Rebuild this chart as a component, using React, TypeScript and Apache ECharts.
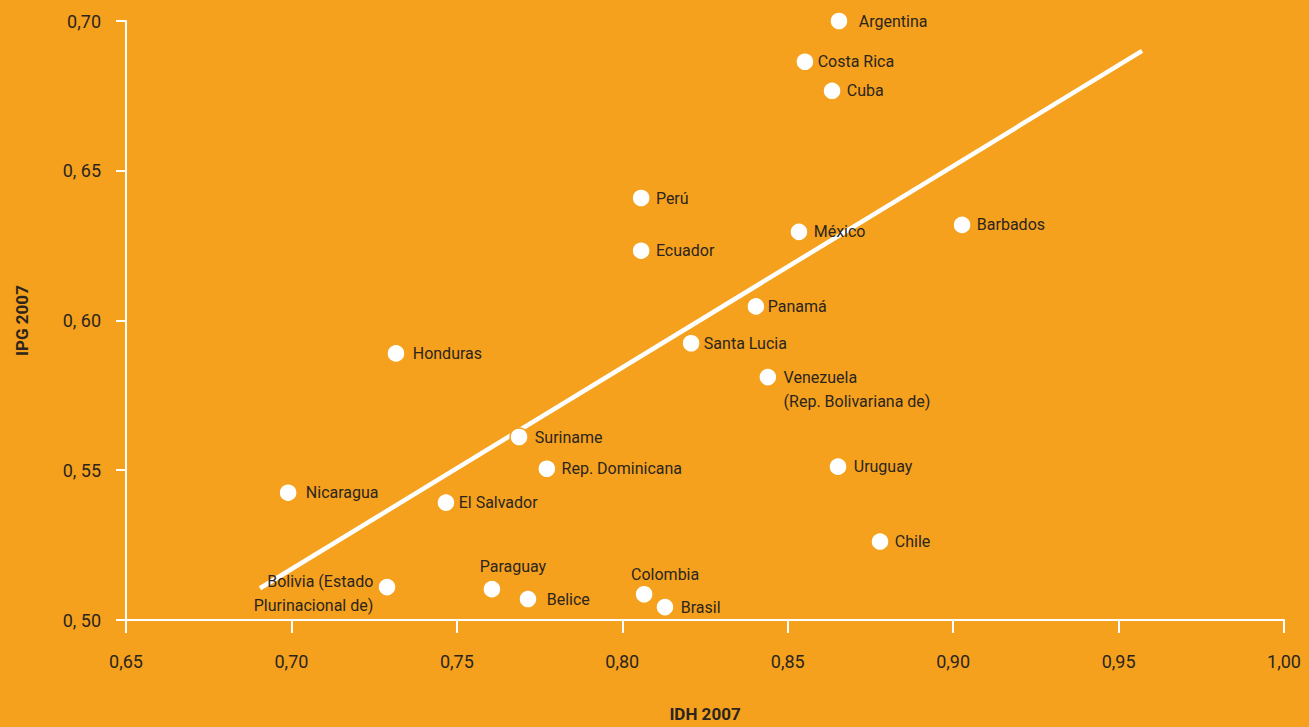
import React, { useEffect, useRef } from "react";
import * as echarts from "echarts";

const countries = [
  "Argentina", "Costa Rica", "Cuba", "Perú", "Ecuador", "México", "Barbados",
  "Panamá", "Santa Lucia", "Venezuela (Rep. Bolivariana de)", "Honduras", "Suriname",
  "Rep. Dominicana", "Uruguay", "Nicaragua", "El Salvador", "Chile",
  "Bolivia (Estado Plurinacional de)", "Paraguay", "Belice", "Colombia", "Brasil",
];
const displayNames = [
  "Argentina", "Costa Rica", "Cuba", "Perú", "Ecuador", "México", "Barbados",
  "Panamá", "Santa Lucia", "Venezuela\n(Rep. Bolivariana de)", "Honduras", "Suriname",
  "Rep. Dominicana", "Uruguay", "Nicaragua", "El Salvador", "Chile",
  "Bolivia (Estado\nPlurinacional de)", "Paraguay", "Belice", "Colombia", "Brasil",
];
const idh2007 = [
  0.8655, 0.8552, 0.8634, 0.8057, 0.8057, 0.8534, 0.9027,
  0.8404, 0.8208, 0.8440, 0.7316, 0.7688,
  0.7772, 0.8652, 0.6990, 0.7467, 0.8779,
  0.7289, 0.7606, 0.7715, 0.8066, 0.8129,
];
const ipg2007 = [
  0.7000, 0.6864, 0.6767, 0.6409, 0.6233, 0.6296, 0.6319,
  0.6047, 0.5924, 0.5811, 0.5890, 0.5611,
  0.5505, 0.5512, 0.5425, 0.5392, 0.5262,
  0.5110, 0.5103, 0.5070, 0.5086, 0.5043,
];
const trendX = [0.6905, 0.9571];
const trendY = [0.5106, 0.6900];
const xTickLabels = ["0,65", "0,70", "0,75", "0,80", "0,85", "0,90", "0,95", "1,00"];
const yTickLabels = ["0, 50", "0, 55", "0, 60", "0, 65", "0,70"];

// label placement (style only)
const labelPlacement: Record<string, any> = {
  "Argentina": { distance: 10 },
  "Costa Rica": { distance: 3 },
  "Panamá": { distance: 2 },
  "Santa Lucia": { distance: 3 },
  "El Salvador": { distance: 3 },
  "Honduras": { distance: 7 },
  "Nicaragua": { distance: 8 },
  "Belice": { distance: 9 },
  "Suriname": { distance: 6 },
  "Uruguay": { distance: 6 },
  "Brasil": { distance: 6 },
  "Venezuela (Rep. Bolivariana de)": { distance: 6, offset: [0, 12], lineHeight: 24 },
  "Bolivia (Estado Plurinacional de)": { position: "left", distance: 4, align: "right", offset: [0, 6], lineHeight: 24 },
  "Paraguay": { position: "top", distance: 5, offset: [21, 0] },
  "Colombia": { position: "top", distance: 2, offset: [21, 0] },
};

const BG = "#F5A11D";
const TEXT = "#2b251e";
const FONT = "Roboto, 'Open Sans', sans-serif";

export default function App() {
  const ref = useRef<HTMLDivElement>(null);
  useEffect(() => {
    document.body.style.margin = "0";
    document.body.style.overflow = "hidden";
    if (!ref.current) return;
    const chart = echarts.init(ref.current, undefined, { renderer: "svg" });
    const scatterData = countries.map((name, i) => ({
      name,
      value: [idh2007[i], ipg2007[i]],
      label: { formatter: displayNames[i], ...(labelPlacement[name] || {}) },
    }));
    chart.setOption({
      animation: false,
      backgroundColor: BG,
      grid: { left: 126, right: 25, top: 21, bottom: 100 },
      xAxis: {
        type: "value",
        min: 0.65,
        max: 1.0,
        interval: 0.05,
        name: "IDH 2007",
        nameLocation: "middle",
        nameGap: 85,
        nameTextStyle: { color: TEXT, fontFamily: FONT, fontWeight: "bold", fontSize: 17 },
        axisLine: { show: true, lineStyle: { color: "#fff", width: 2 } },
        axisTick: { show: true, length: 13, lineStyle: { color: "#fff", width: 2 } },
        axisLabel: {
          color: TEXT,
          fontFamily: FONT,
          fontSize: 18,
          margin: 32,
          formatter: (v: number) => xTickLabels[Math.round((v - 0.65) / 0.05)] ?? "",
        },
        splitLine: { show: false },
      },
      yAxis: {
        type: "value",
        min: 0.5,
        max: 0.7,
        interval: 0.05,
        name: "IPG 2007",
        nameLocation: "middle",
        nameRotate: 90,
        nameGap: 96,
        nameTextStyle: { color: TEXT, fontFamily: FONT, fontWeight: "bold", fontSize: 17 },
        axisLine: { show: true, lineStyle: { color: "#fff", width: 2 } },
        axisTick: { show: true, length: 10, lineStyle: { color: "#fff", width: 2 } },
        axisLabel: {
          color: TEXT,
          fontFamily: FONT,
          fontSize: 18,
          margin: 25,
          formatter: (v: number) => yTickLabels[Math.round((v - 0.5) / 0.05)] ?? "",
        },
        splitLine: { show: false },
      },
      series: [
        {
          type: "line",
          data: trendX.map((x, i) => [x, trendY[i]]),
          symbol: "none",
          lineStyle: { color: "#fff", width: 4.5, cap: "butt" },
          z: 1,
          silent: true,
        },
        {
          type: "scatter",
          data: scatterData,
          symbol: "circle",
          symbolSize: 18,
          clip: false,
          itemStyle: { color: "#fff", borderColor: BG, borderWidth: 1.5, opacity: 1 },
          label: {
            show: true,
            position: "right",
            distance: 5,
            color: TEXT,
            fontFamily: FONT,
            fontSize: 16,
          },
          z: 3,
        },
      ],
    });
    return () => chart.dispose();
  }, []);
  return <div ref={ref} style={{ position: "absolute", left: 0, top: 0, width: "1309px", height: "727px" }} />;
}
